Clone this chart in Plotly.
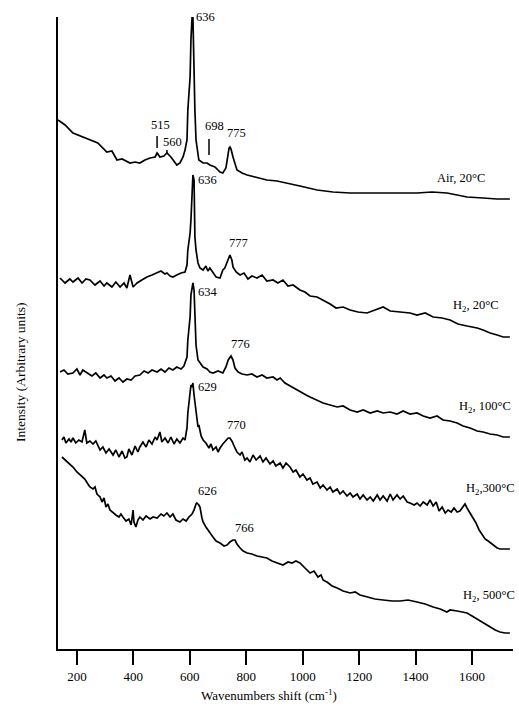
import plotly.graph_objects as go

# ---- data (wavenumber in cm-1, intensity in arbitrary units) ----
AIR_X = [133,158,186,211,246,274,306,324,342,360,388,406,423,441,459,477,484,494,508,519,533,547,554,565,576,583,590,593,597,601,604,608,611,615,618,622,629,632,647,661,671,689,707,717,728,732,739,742,746,753,760,767,785,803,831,873,909,944,990,1051,1107,1168,1228,1285,1345,1405,1458,1511,1547,1582,1639,1689,1734]
AIR_Y = [529,524,516,513,509,506,497,498,489,490,486,487,486,489,491,492,496,492,493,496,492,487,484,486,492,499,509,539,559,572,609,632,632,572,539,509,494,489,486,486,484,482,477,476,481,489,501,502,500,492,484,479,476,474,472,469,468,466,463,459,457,456,456,456,456,456,457,456,454,452,451,450,450]

H20_X = [140,158,175,186,204,218,232,246,264,282,296,306,324,338,353,367,377,388,399,413,430,448,466,484,498,512,519,530,540,554,569,583,590,593,601,604,608,611,615,618,622,629,636,647,657,664,671,682,693,707,717,724,736,742,749,753,764,778,792,806,820,838,856,873,895,912,930,948,966,990,1008,1026,1051,1072,1097,1118,1143,1168,1196,1228,1256,1285,1310,1345,1380,1405,1434,1462,1494,1522,1550,1582,1618,1639,1664,1689,1710,1734]
H20_Y = [371,366,370,367,371,366,370,369,364,368,363,366,362,367,362,366,361,374,362,366,369,372,374,376,378,375,376,373,372,374,376,377,384,399,416,429,449,474,469,412,399,386,381,379,383,378,381,377,372,371,379,381,389,394,389,382,377,374,376,370,373,371,374,368,369,366,369,363,364,359,357,353,352,349,345,341,342,339,337,336,339,342,338,337,336,334,336,332,331,329,325,323,321,319,316,314,312,312]

H100_X = [140,154,168,186,200,211,221,235,253,267,282,296,306,321,335,349,363,377,392,406,423,438,452,466,484,498,512,526,540,554,569,579,587,590,593,601,604,608,611,615,618,622,629,636,647,661,671,682,700,717,728,736,746,753,760,771,785,803,820,838,856,873,895,909,920,937,955,966,980,998,1012,1026,1047,1072,1097,1122,1143,1168,1193,1214,1239,1264,1285,1310,1334,1356,1380,1405,1427,1451,1476,1497,1522,1547,1568,1593,1618,1639,1664,1689,1710,1734]
H100_Y = [277,279,275,276,280,274,279,276,273,276,271,274,271,273,268,271,267,270,269,273,274,278,276,279,277,280,277,281,279,282,280,283,289,292,309,332,354,362,366,359,322,304,289,286,282,280,277,276,278,276,282,289,293,289,281,277,275,274,275,272,274,271,272,269,271,266,263,261,259,256,254,252,249,246,244,242,243,239,237,239,236,238,236,237,235,238,235,236,233,231,233,229,228,226,223,221,218,217,215,214,212,212]

H300_X = [147,154,161,172,179,186,196,207,218,228,235,246,257,267,282,292,303,314,328,338,349,360,370,377,384,395,406,416,423,434,445,455,466,477,484,494,501,512,523,533,544,554,565,576,583,590,593,601,604,608,611,615,622,625,629,632,640,647,657,668,675,682,693,700,707,717,728,736,742,749,760,767,778,785,795,803,813,824,835,849,859,870,884,895,905,920,930,941,955,966,976,990,1001,1015,1026,1036,1051,1062,1072,1086,1097,1107,1122,1132,1143,1157,1168,1178,1193,1203,1214,1228,1239,1250,1264,1274,1285,1299,1310,1320,1334,1345,1356,1370,1380,1395,1405,1416,1427,1441,1451,1462,1473,1483,1494,1505,1515,1526,1536,1547,1557,1568,1575,1582,1593,1603,1614,1625,1635,1646,1657,1667,1678,1689,1699,1717,1734]
H300_Y = [209,212,206,210,207,211,206,209,207,219,206,208,205,208,199,202,196,200,194,199,192,198,191,192,200,194,203,197,202,207,202,209,205,212,209,217,207,211,206,212,205,210,206,211,209,221,236,254,264,262,266,254,236,229,222,224,213,209,206,201,205,199,202,197,201,205,209,211,211,208,201,197,194,197,189,191,187,194,189,193,187,191,185,188,183,186,181,186,182,177,179,172,175,169,171,165,167,161,164,159,162,157,160,155,158,153,156,152,155,150,154,149,152,148,154,149,153,148,155,149,154,150,153,147,146,144,146,143,147,144,149,143,147,138,142,136,139,137,141,137,138,143,145,141,136,132,126,119,114,110,108,106,103,101,100,100,100]

H500_X = [147,158,168,186,200,214,228,239,246,257,264,271,282,289,296,303,310,317,328,338,349,356,363,374,384,392,399,402,409,416,423,434,445,459,470,484,498,508,519,530,540,551,565,576,587,597,608,615,622,625,632,636,643,647,657,668,682,693,707,721,732,742,753,760,767,778,789,803,820,838,856,873,891,909,930,948,962,976,990,1008,1026,1040,1054,1065,1072,1086,1104,1122,1143,1168,1186,1203,1228,1256,1285,1317,1345,1373,1405,1434,1462,1487,1511,1522,1547,1568,1582,1600,1618,1639,1664,1682,1699,1717,1734]
H500_Y = [192,189,186,182,177,173,170,165,162,160,162,155,152,147,151,142,145,139,136,134,132,135,132,128,130,124,139,127,122,129,132,129,133,130,132,131,135,133,136,132,135,129,127,130,128,132,135,139,145,146,144,142,131,127,122,117,112,108,106,103,104,107,109,109,105,101,98,96,95,93,92,91,88,86,84,87,86,88,86,81,76,78,72,74,69,67,63,61,58,56,57,54,52,50,49,48,48,49,47,45,42,40,37,39,38,37,36,33,30,26,22,19,17,16,16]

SERIES_NAMES = ["Air, 20°C", "H<sub>2</sub>, 20°C", "H<sub>2</sub>, 100°C", "H<sub>2</sub>,300°C", "H<sub>2</sub>, 500°C"]
SERIES_X = [AIR_X, H20_X, H100_X, H300_X, H500_X]
SERIES_Y = [AIR_Y, H20_Y, H100_Y, H300_Y, H500_Y]
# right edge of each series label (wavenumber) and its fine pixel shift
NAME_X = [1653, 1703, 1740, 1740, 1740]
NAME_XSHIFT = [0, 0, 1, 5, 5]
NAME_Y = [471, 343, 242, 160, 53]

PEAK_TEXT = ["636", "515", "560", "698", "775", "636", "777", "634", "776", "629", "770", "626", "766"]
PEAK_TX = [654, 497, 540, 688, 767, 661, 771, 664, 778, 661, 767, 661, 795]
PEAK_TY = [632, 524, 507, 523, 516, 469, 406, 357, 305, 262, 224, 158, 121]

# marker bars under peak labels (wavenumber, y0, y1)
BAR_X = [484, 519, 668]
BAR_Y0 = [501, 495, 494]
BAR_Y1 = [513, 499, 510]

TICKS = [200, 400, 600, 800, 1000, 1200, 1400, 1600]

FONT = "Liberation Serif"

fig = go.Figure()
for xs, ys, nm in zip(SERIES_X, SERIES_Y, SERIES_NAMES):
    assert len(xs) == len(ys)
    fig.add_trace(go.Scatter(x=xs, y=ys, mode="lines", name=nm,
                             line=dict(color="black", width=1.7),
                             showlegend=False, hoverinfo="skip"))

annotations = []
for t, x, dx, y in zip(SERIES_NAMES, NAME_X, NAME_XSHIFT, NAME_Y):
    annotations.append(dict(x=x, y=y, xref="x", yref="y", text=t, showarrow=False,
                            xanchor="right", yanchor="middle", xshift=dx,
                            font=dict(family=FONT, size=12.5, color="black")))
for t, x, y in zip(PEAK_TEXT, PEAK_TX, PEAK_TY):
    annotations.append(dict(x=x, y=y, xref="x", yref="y", text=t, showarrow=False,
                            xanchor="center", yanchor="middle",
                            font=dict(family=FONT, size=12.5, color="black")))
annotations.append(dict(x=0.464, y=-0.073, xref="paper", yref="paper",
                        xanchor="center", yanchor="middle",
                        text="Wavenumbers shift (cm<sup>-1</sup>)", showarrow=False,
                        font=dict(family=FONT, size=13, color="black")))
annotations.append(dict(x=-0.084, y=0.438, xref="paper", yref="paper", textangle=-90,
                        xanchor="center", yanchor="middle",
                        text="Intensity (Arbitrary units)", showarrow=False,
                        font=dict(family=FONT, size=13.5, color="black")))

shapes = []
for bx, b0, b1 in zip(BAR_X, BAR_Y0, BAR_Y1):
    shapes.append(dict(type="line", xref="x", yref="y", x0=bx, x1=bx, y0=b0, y1=b1,
                       line=dict(color="black", width=1.5)))

fig.update_layout(
    width=519, height=717,
    margin=dict(l=58, r=6, t=17, b=68),
    paper_bgcolor="white", plot_bgcolor="white",
    annotations=annotations, shapes=shapes,
    xaxis=dict(range=[133, 1745], tickvals=TICKS, ticktext=[str(t) for t in TICKS],
               ticks="outside", ticklen=14, tickwidth=1.5, tickcolor="black",
               showline=True, linecolor="black", linewidth=2, showgrid=False,
               zeroline=False, tickfont=dict(family=FONT, size=13, color="black")),
    yaxis=dict(range=[0, 632], showticklabels=False, ticks="", showline=True,
               linecolor="black", linewidth=2, showgrid=False, zeroline=False),
)

# remove the default page margin so the figure fills the 519x717 window exactly
fig.write_html("out.html",
               config={"displayModeBar": False},
               post_script="document.body.style.margin='0';"
                           "document.documentElement.style.overflow='hidden';")
